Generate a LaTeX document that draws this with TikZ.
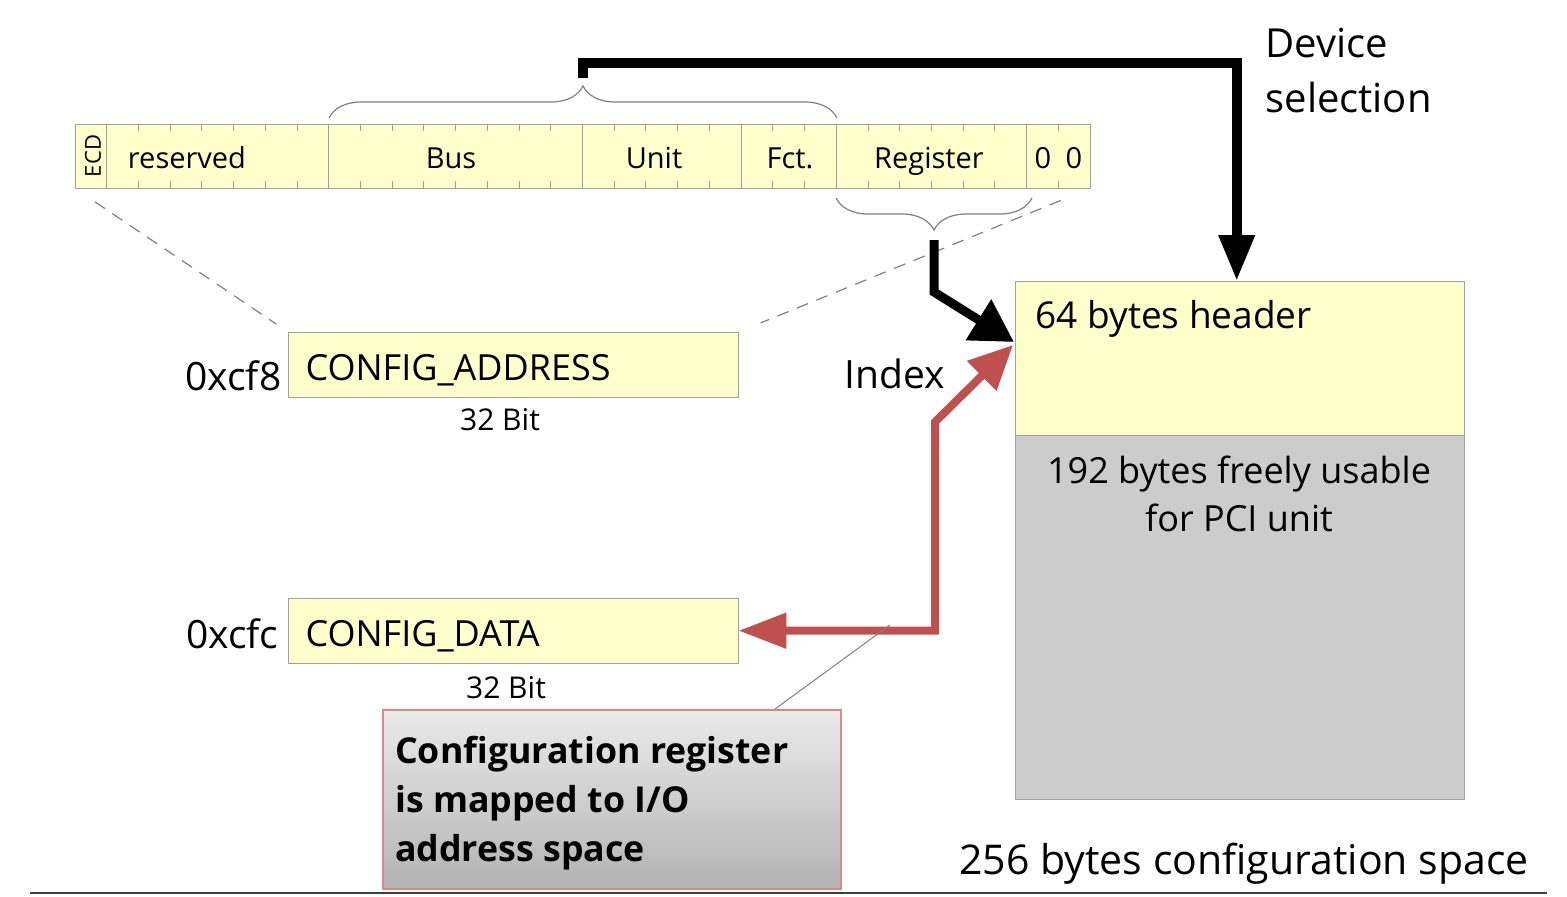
\documentclass[tikz,border=0pt]{standalone}
\usepackage{xcolor}
\usepackage{fontspec}
\setmainfont{Open Sans}
\usetikzlibrary{arrows.meta,decorations.pathreplacing,calc}

\definecolor{fieldyellow}{HTML}{FFFFCC}
\definecolor{linegray}{HTML}{A0A0A0}
\definecolor{spacegray}{HTML}{CCCCCC}
\definecolor{idxred}{HTML}{C0504D}
\definecolor{noteedge}{HTML}{D98A88}

\tikzset{
    regbox/.style={draw=linegray, fill=fieldyellow, anchor=north west, inner sep=0pt},
    fieldtxt/.style={anchor=base, font=\fontsize{29}{34}\selectfont},
    bigtxt/.style={font=\fontsize{36}{44}\selectfont},
    bittxt/.style={anchor=base, font=\fontsize{30}{36}\selectfont},
    bracegray/.style={draw=gray, line width=1.2pt, decorate, decoration={brace, amplitude=32pt, aspect=0.5}},
    dashln/.style={draw=gray, line width=1.2pt, dash pattern=on 12pt off 9pt},
    blackarrow/.style={line width=10pt, line join=miter, -{Triangle[length=46pt, width=34pt]}},
    idxarrow/.style={line width=9pt, line join=miter, -{Triangle[length=42pt, width=46pt]}},
    redarrow/.style={draw=idxred, line width=8pt, line join=miter,
        {Triangle[length=48pt, width=34pt]}-{Triangle[length=44pt, width=40pt]}},
    notebox/.style={draw=noteedge, line width=1.5pt, top color=black!8, bottom color=black!30,
        anchor=north west, minimum width=458pt, minimum height=179pt, inner sep=0pt},
    notetxt/.style={anchor=base west, align=left, inner sep=0pt,
        font=\bfseries\fontsize{35.7}{49}\selectfont}
}

\begin{document}
\begin{tikzpicture}[x=1pt, y=-1pt]
    \useasboundingbox (0,0) rectangle (1567,897);
    \def\bw{31.72}

    % Draw the 32 bit address word
    \node[regbox, minimum width=1015pt, minimum height=64pt] (field) at (75,124) {};

    % Field borders
    \foreach \b in {1,8,16,21,24,30}
        \draw[linegray, line width=1.2pt] ({75+\b*\bw},124) -- ({75+\b*\bw},188);

    % Bit ticks on top and bottom edge
    \foreach \b in {1,...,31} {
        \draw[linegray, line width=1pt] ({75+\b*\bw},124) -- ++(0,7);
        \draw[linegray, line width=1pt] ({75+\b*\bw},188) -- ++(0,-7);
    }

    % Field names
    \node[rotate=90, font=\fontsize{22}{26}\selectfont] (ecd) at (93,156) {ECD};
    \node[fieldtxt] (res) at (187,168) {reserved};
    \node[fieldtxt] (bus) at (451,168) {Bus};
    \node[fieldtxt] (unit) at (654,168) {Unit};
    \node[fieldtxt] (fct) at (790,168) {Fct.};
    \node[fieldtxt] (reg) at (929,168) {Register};
    \node[fieldtxt] (zeroa) at (1043,168) {0};
    \node[fieldtxt] (zerob) at (1074,168) {0};

    % Braces over bus/unit/fct and under register
    \draw[bracegray] (329,118) -- (837,118);
    \draw[bracegray] (1032,198) -- (836,198);
    \coordinate (selstart) at (583,78);
    \coordinate (regstart) at (934,240);

    % I/O registers
    \node[regbox, minimum width=450pt, minimum height=65pt] (addr) at (288,332) {};
    \node[regbox, minimum width=450pt, minimum height=65pt] (data) at (288,598) {};
    \node[bigtxt, anchor=base west] (addrtxt) at (302,380) {CONFIG\_ADDRESS};
    \node[bigtxt, anchor=base west] (datatxt) at (302,646) {CONFIG\_DATA};
    \node[bigtxt, anchor=base east, font=\fontsize{39}{46}\selectfont] (addrport) at (285,390) {0xcf8};
    \node[bigtxt, anchor=base east, font=\fontsize{39}{46}\selectfont] (dataport) at (282,648) {0xcfc};
    \node[bittxt] (addrbits) at (500,430) {32 Bit};
    \node[bittxt] (databits) at (506,698) {32 Bit};

    % Dashed zoom lines
    \draw[dashln, shorten <=24pt, shorten >=14pt] (field.south west) -- (addr.north west);
    \draw[dashln, shorten <=32pt, shorten >=24pt] (field.south east) -- (addr.north east);

    % Configuration space
    \node[regbox, minimum width=449pt, minimum height=154pt] (hdr) at (1015,281) {};
    \node[regbox, fill=spacegray, minimum width=449pt, minimum height=364pt] (free) at (1015,435) {};
    \node[bigtxt, anchor=base west, font=\fontsize{37}{44}\selectfont] (hdrtxt) at (1032,328) {64 bytes header};
    \node[bigtxt, anchor=north, align=center, font=\fontsize{36}{48}\selectfont] (freetxt) at (1239,452) {192 bytes freely usable\\for PCI unit};
    \node[bigtxt, anchor=base, font=\fontsize{41}{46}\selectfont] (spacetxt) at (1244,874) {256 bytes configuration space};
    \node[bigtxt, anchor=north west, align=left, font=\fontsize{40}{55}\selectfont] (seltxt) at (1262,25) {Device\\selection};
    \node[bigtxt, anchor=base, font=\fontsize{39}{46}\selectfont] (idxtxt) at (895,388) {Index};

    % Arrows
    \draw[blackarrow] (selstart) -- (583,63) -| ($(hdr.north)+(-3,0)$);
    \draw[idxarrow] (regstart) -- (934,292) -- ($(hdr.north west)+(-1,61)$);
    \draw[redarrow] (data.east) -| (935,422) -- ($(hdr.north west)+(-2,64)$);

    % Note box with pointer
    \node[notebox] (note) at (382,709) {};
    \node[notetxt] (notetext) at (395,861) {Configuration register\\is mapped to I/O\\address space};
    \coordinate (callpt) at (890,625);
    \draw[gray, line width=1pt] ($(note.north west)+(393,0)$) -- (callpt);

    % Bottom rule
    \draw[black!75, line width=2pt] (30,893) -- (1547,893);
\end{tikzpicture}
\end{document}
